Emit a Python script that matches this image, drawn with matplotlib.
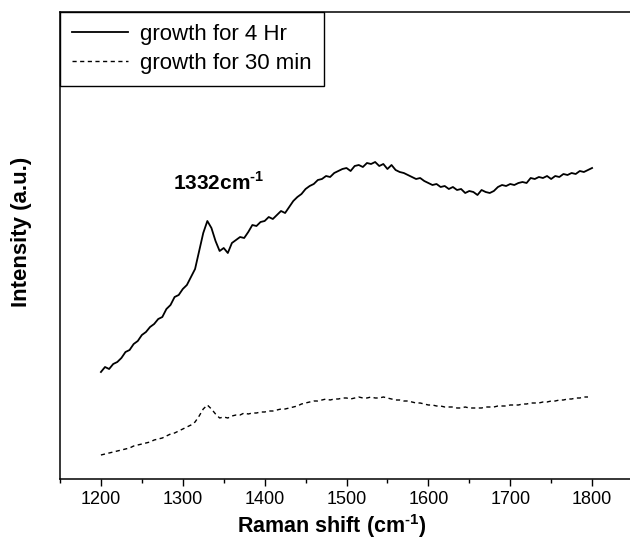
import matplotlib
matplotlib.use("Agg")
import matplotlib.pyplot as plt
import numpy as np

plt.rcParams['font.family'] = ['Liberation Sans', 'DejaVu Sans']
plt.rcParams['mathtext.fontset'] = 'custom'
plt.rcParams['mathtext.rm'] = 'Liberation Sans:bold'
plt.rcParams['mathtext.bf'] = 'Liberation Sans:bold'

# Raman shift (cm-1), 5 cm-1 steps
shift_4hr = np.arange(1200, 1801, 5)
shift_30min = np.arange(1200, 1796, 5)

# intensity (arbitrary units)
int_4hr = [107, 112, 110, 115, 117, 121, 127, 129, 135, 138,
           144, 147, 152, 155, 160, 162, 170, 174, 182, 184,
           190, 194, 202, 210, 228, 246, 258, 251, 238, 228,
           231, 226, 236, 239, 242, 241, 247, 254, 253, 257,
           258, 262, 260, 264, 268, 266, 272, 278, 282, 285,
           290, 293, 295, 299, 300, 303, 302, 306, 308, 310,
           311, 308, 313, 314, 312, 316, 315, 317, 313, 315,
           310, 314, 309, 307, 306, 304, 302, 300, 301, 298,
           296, 294, 295, 292, 293, 290, 292, 289, 290, 286,
           288, 287, 284, 289, 287, 286, 288, 292, 294, 293,
           295, 294, 296, 297, 296, 301, 300, 302, 301, 303,
           300, 303, 302, 305, 304, 306, 305, 308, 307, 309,
           311]

int_30min = [24, 25, 26, 27, 28, 29, 30, 31, 33, 34,
             35, 36, 37, 39, 40, 41, 43, 45, 46, 48,
             50, 52, 54, 57, 63, 70, 74, 70, 65, 61,
             62, 61, 63, 64, 64, 66, 65, 66, 66, 67,
             67, 68, 68, 69, 70, 70, 71, 72, 73, 75,
             76, 77, 78, 78, 79, 80, 79, 80, 80, 81,
             81, 80, 81, 82, 81, 81, 82, 81, 81, 82,
             81, 80, 79, 79, 78, 78, 77, 76, 76, 75,
             74, 74, 73, 73, 72, 72, 72, 71, 71, 72,
             71, 71, 71, 71, 72, 72, 72, 73, 73, 73,
             74, 74, 74, 75, 75, 76, 76, 76, 77, 77,
             78, 78, 79, 79, 80, 80, 81, 81, 82, 82]

fig = plt.figure(figsize=(6.3, 5.43), dpi=100)
ax = fig.add_axes([60/630, 64/543, 573/630, 467/543])

ax.plot(shift_4hr, int_4hr, color='black', lw=1.3, label='growth for 4 Hr')
ax.plot(shift_30min, int_30min, color='black', lw=1.0, dashes=(3, 2.5),
        label='growth for 30 min')

ax.set_xlim(1150, 1850)
ax.set_ylim(0, 467)
ax.set_xticks(np.arange(1200, 1801, 100))
ax.set_xticks(np.arange(1150, 1851, 50), minor=True)
ax.tick_params(axis='x', which='major', direction='out', length=5, width=1,
               labelsize=13, pad=4)
ax.tick_params(axis='x', which='minor', direction='out', length=3, width=1)
ax.set_yticks([])
for s in ax.spines.values():
    s.set_linewidth(1.1)

ax.set_xlabel('Raman shift (cm$^{\\text{-1}}$)', fontsize=15.5, fontweight='bold')
ax.xaxis.set_label_coords((332 - 60) / 573, -0.07)
ax.set_ylabel('Intensity (a.u.)', fontsize=16, fontweight='bold')
ax.yaxis.set_label_coords(-0.049, (479 - 232) / 467)

ax.text(1288, 296, '1332cm$^{\\text{-1}}$', fontsize=15, fontweight='bold',
        ha='left', va='center')

leg = ax.legend(loc='upper left', borderaxespad=0, fontsize=16, fancybox=False,
                framealpha=1, edgecolor='black', handlelength=2.5,
                handletextpad=0.55, borderpad=0.55, labelspacing=0.35)
leg.get_frame().set_linewidth(1.0)

fig.savefig('out.png', dpi=100)
